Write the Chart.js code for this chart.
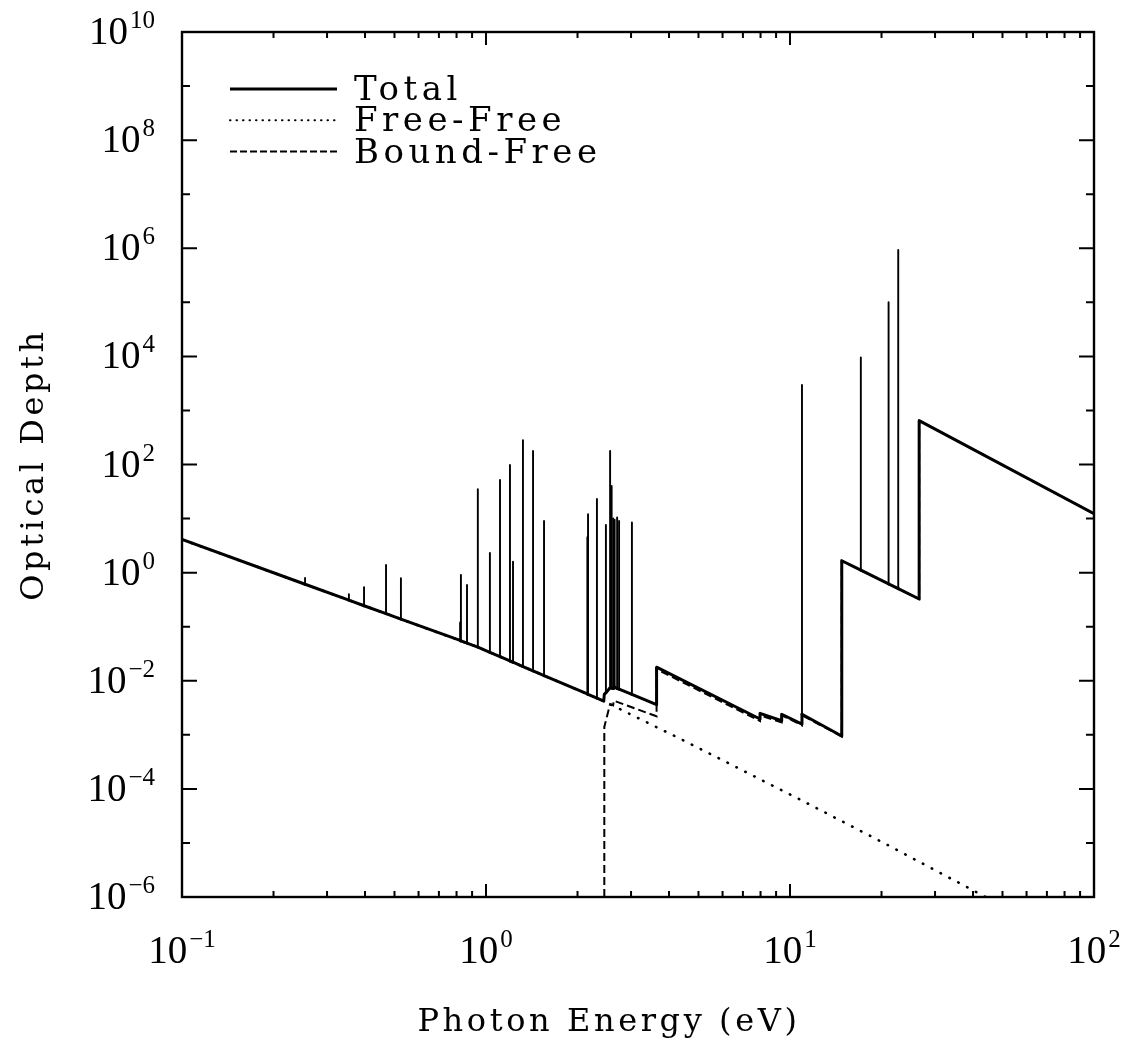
<!DOCTYPE html>
<html>
<head>
<meta charset="utf-8">
<script src="https://cdn.jsdelivr.net/npm/chart.js@4.4.1/dist/chart.umd.min.js"></script>
<style>
html,body{margin:0;padding:0;background:#fff;}
canvas{display:block;}
</style>
</head>
<body>
<canvas id="c" width="1137" height="1046"></canvas>
<script>
// ---- data ----
const seriesNames = ['Total', 'Free-Free', 'Bound-Free'];
const xTitle = 'Photon Energy (eV)';
const yTitle = 'Optical Depth';

// Total: continuum (with ionisation edges)
const totalE   = [0.1, 0.94, 1.5, 2.44, 2.45, 2.56, 2.62, 2.63, 3.64, 3.64, 7.97, 7.97, 9.39, 9.39, 10.95, 10.95, 14.8, 14.8, 26.6, 26.6, 100];
const totalTau = [4.1, 0.042, 0.0135, 0.0042, 0.0056, 0.0074, 0.0072, 0.0077, 0.0036, 0.0178, 0.00196, 0.0025, 0.00182, 0.0024, 0.00158, 0.0024, 0.00095, 1.66, 0.325, 646, 12.3];

// Total: narrow lines (energy, peak, continuum level under the line)
const lineE    = [0.254, 0.354, 0.397, 0.469, 0.525, 0.822, 0.827, 0.866, 0.94, 1.03, 1.112, 1.199, 1.227, 1.323, 1.428, 1.552, 2.155, 2.166, 2.317, 2.48, 2.56, 2.59, 2.62, 2.65, 2.70, 2.74, 3.02, 10.95, 17.1, 21.1, 22.7];
const linePeak = [0.80, 0.40, 0.54, 1.38, 0.79, 0.12, 0.91, 0.59, 35, 2.3, 52, 98, 1.6, 283, 178, 9.0, 4.5, 12, 23, 7.6, 178, 40, 10, 9.5, 10.5, 9, 8.5, 2950, 9600, 100000, 930000];
const lineBase = [0.61, 0.309, 0.244, 0.174, 0.138, 0.0557, 0.0546, 0.0497, 0.042, 0.0336, 0.0279, 0.0232, 0.0220, 0.0183, 0.0152, 0.0124, 0.0057, 0.00558, 0.00475, 0.0060, 0.0074, 0.0073, 0.0072, 0.0076, 0.0072, 0.0070, 0.0056, 0.0024, 1.11, 0.62, 0.506];

// Free-Free
const ffE   = [0.1, 0.94, 1.5, 2.44, 4.5, 10.7, 20, 44];
const ffTau = [4.1, 0.042, 0.0135, 0.0042, 0.00077, 0.000065, 0.0000105, 0.000001];

// Bound-Free
const bfE   = [2.45, 2.45, 2.56, 2.62, 2.63, 3.64, 3.64, 7.97, 7.97, 9.39, 9.39, 10.95, 10.95, 14.8, 14.8, 26.6, 26.6, 100];
const bfTau = [0.000001, 0.0014, 0.0037, 0.0035, 0.0043, 0.0022, 0.0164, 0.0018, 0.0023, 0.0017, 0.0023, 0.0015, 0.0023, 0.00093, 1.66, 0.325, 646, 12.3];

// Axis ticks: value and its label (base 10, exponent)
const xTickValues = [0.1, 1, 10, 100];
const xTickExps   = ['\u22121', '0', '1', '2'];
const yTickValues = [1e-6, 1e-4, 1e-2, 1, 1e2, 1e4, 1e6, 1e8, 1e10];
const yTickExps   = ['\u22126', '\u22124', '\u22122', '0', '2', '4', '6', '8', '10'];

// ---- build datasets ----
const totalPts = totalE.map((e, i) => ({x: e, y: totalTau[i]}));
lineE.forEach((e, i) => {
  totalPts.push({x: e, y: lineBase[i]}, {x: e, y: linePeak[i], spike: true}, {x: e, y: lineBase[i]});
});
totalPts.sort((a, b) => a.x - b.x);
const ffPts = ffE.map((e, i) => ({x: e, y: ffTau[i]}));
const bfPts = bfE.map((e, i) => ({x: e, y: bfTau[i]}));

const TXT = '"DejaVu Serif"';
const NUM = '"Liberation Serif"';

function powLabel(ctx, exp, xAnchor, baseline, align) {
  ctx.font = '39px ' + NUM;
  const wb = ctx.measureText('10').width;
  ctx.font = '25px ' + NUM;
  const we = ctx.measureText(exp).width;
  const gap = 2;
  const w = wb + gap + we;
  let x0 = align === 'right' ? xAnchor - w : xAnchor - w / 2;
  ctx.textAlign = 'left';
  ctx.textBaseline = 'alphabetic';
  ctx.font = '39px ' + NUM;
  ctx.fillText('10', x0, baseline);
  ctx.font = '25px ' + NUM;
  ctx.fillText(exp, x0 + wb + gap, baseline - 16);
}

const legendDash = [[], [0.5, 6], [7, 3]];
const framePlugin = {
  id: 'frame',
  afterDatasetsDraw(chart) {
    const {ctx, chartArea: a, scales: {x, y}} = chart;
    ctx.save();
    ctx.strokeStyle = '#000';
    ctx.fillStyle = '#000';
    ctx.lineWidth = 2.4;
    ctx.strokeRect(a.left, a.top, a.right - a.left, a.bottom - a.top);
    ctx.lineWidth = 2;
    ctx.beginPath();
    for (let d = -1; d <= 2; d++) {
      for (let m = 1; m <= 9; m++) {
        const v = m * Math.pow(10, d);
        if (v > 100.0001) break;
        const px = x.getPixelForValue(v);
        const L = m === 1 ? 13 : 6;
        ctx.moveTo(px, a.bottom); ctx.lineTo(px, a.bottom - L);
        ctx.moveTo(px, a.top); ctx.lineTo(px, a.top + L);
      }
    }
    for (let d = -6; d <= 10; d++) {
      const py = y.getPixelForValue(Math.pow(10, d));
      const L = (d % 2 === 0) ? 15 : 8;
      ctx.moveTo(a.left, py); ctx.lineTo(a.left + L, py);
      ctx.moveTo(a.right, py); ctx.lineTo(a.right - L, py);
    }
    ctx.stroke();

    // tick labels
    xTickValues.forEach((v, i) => powLabel(ctx, xTickExps[i], x.getPixelForValue(v), a.bottom + 66, 'center'));
    yTickValues.forEach((v, i) => powLabel(ctx, yTickExps[i], a.left - 27, y.getPixelForValue(v) + 12, 'right'));

    // axis titles
    try { ctx.letterSpacing = '3.6px'; } catch (e) {}
    ctx.font = '32px ' + TXT;
    ctx.textAlign = 'center';
    ctx.textBaseline = 'alphabetic';
    ctx.fillText(xTitle, 609, a.bottom + 134);
    ctx.save();
    ctx.translate(43, (a.top + a.bottom) / 2);
    ctx.rotate(-Math.PI / 2);
    ctx.fillText(yTitle, 0, 0);
    ctx.restore();

    // legend inside plot
    chart.data.datasets.forEach((ds, i) => {
      const ly = a.top + 57 + i * 31.3;
      ctx.beginPath();
      ctx.setLineDash(legendDash[i]);
      ctx.lineCap = i === 1 ? 'round' : 'butt';
      ctx.lineWidth = i === 0 ? 2.8 : 2;
      ctx.moveTo(a.left + 48, ly); ctx.lineTo(a.left + 155, ly);
      ctx.stroke();
      ctx.setLineDash([]);
      try { ctx.letterSpacing = '4.5px'; } catch (e) {}
      ctx.font = '34px ' + TXT;
      ctx.textAlign = 'left';
      ctx.textBaseline = 'alphabetic';
      ctx.fillText(ds.label, a.left + 172, ly + 11);
    });
    ctx.restore();
  }
};

new Chart(document.getElementById('c'), {
  type: 'line',
  data: {
    datasets: [
      {
        label: seriesNames[0], data: totalPts, borderColor: '#000', borderWidth: 3,
        pointRadius: 0, tension: 0, borderCapStyle: 'round', borderJoinStyle: 'round',
        segment: {
          borderWidth: ctx => (totalPts[ctx.p0DataIndex].spike || totalPts[ctx.p1DataIndex].spike) ? 1.9 : 3
        }
      },
      {
        label: seriesNames[1], data: ffPts, borderColor: '#000', borderWidth: 2.6,
        pointRadius: 0, tension: 0, borderDash: [0.5, 9.5], borderCapStyle: 'round'
      },
      {
        label: seriesNames[2], data: bfPts, borderColor: '#000', borderWidth: 2,
        pointRadius: 0, tension: 0, borderDash: [8, 4]
      }
    ]
  },
  options: {
    responsive: false,
    animation: false,
    devicePixelRatio: 1,
    layout: {padding: {top: 32, right: 43, left: 0, bottom: 0}},
    plugins: {legend: {display: false}, tooltip: {enabled: false}},
    scales: {
      x: {
        type: 'logarithmic', min: 0.1, max: 100, position: 'bottom',
        grid: {display: false, drawTicks: false}, border: {display: false},
        afterBuildTicks: s => { s.ticks = xTickValues.map(v => ({value: v})); },
        afterFit: s => { s.height = 149; s.paddingLeft = 0; s.paddingRight = 0; },
        ticks: {display: false},
        title: {display: false}
      },
      y: {
        type: 'logarithmic', min: 1e-6, max: 1e10, position: 'left',
        grid: {display: false, drawTicks: false}, border: {display: false},
        afterBuildTicks: s => { s.ticks = yTickValues.map(v => ({value: v})); },
        afterFit: s => { s.width = 182; s.paddingTop = 0; s.paddingBottom = 0; },
        ticks: {display: false},
        title: {display: false}
      }
    }
  },
  plugins: [framePlugin]
});
</script>
</body>
</html>
